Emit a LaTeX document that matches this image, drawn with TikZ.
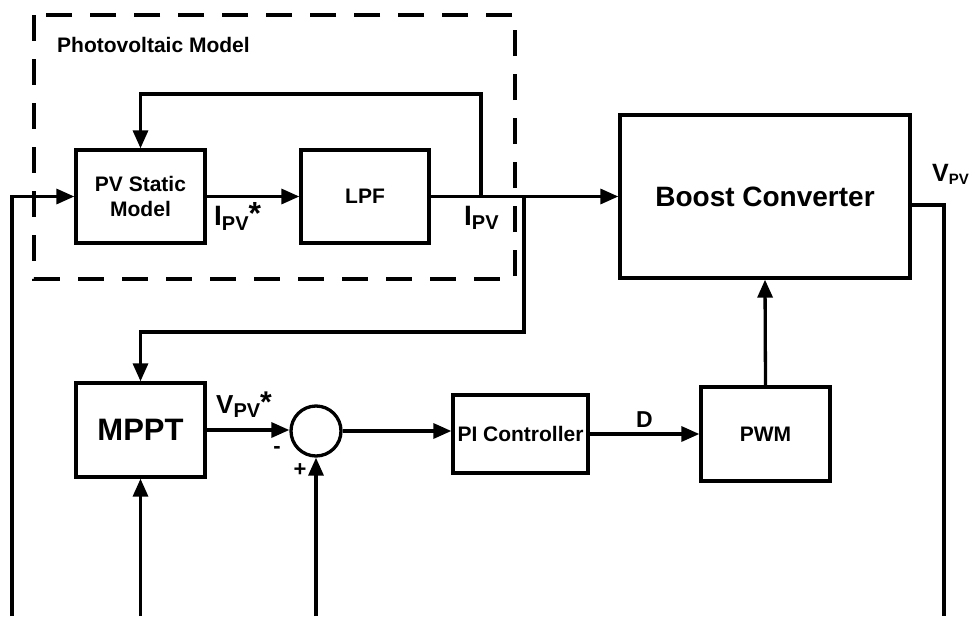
\documentclass[tikz,border=0pt]{standalone}
\usepackage{fontspec}
\setmainfont{Liberation Sans}
\usetikzlibrary{arrows.meta}
\newcommand{\fsz}[1]{\fontsize{#1}{#1}\selectfont}
\newcommand{\lowsub}[2]{\lower#1pt\hbox{\fsz{20}#2}}

\begin{document}
\begin{tikzpicture}[x=1pt, y=-1pt,
  blk/.style={draw, line width=3.3pt, align=center, font=\bfseries\fsz{21}},
  sumpt/.style={draw, circle, line width=3.3pt, minimum size=50pt, inner sep=0pt},
  lbl/.style={inner sep=0pt, font=\bfseries},
  sig/.style={line width=3.3pt},
  arr/.style={sig, -{Triangle[length=18pt,width=15pt]}},
]
\useasboundingbox (0,0) rectangle (974,616);

% photovoltaic model
\draw[line width=3.3pt, dash pattern=on 26pt off 18pt] (34,15) rectangle (515,279);
\node[lbl, font=\bfseries\fsz{21}, anchor=base west] (pvtitle) at (57,52) {Photovoltaic Model};

\node[blk, minimum width=129pt, minimum height=93pt,
      font=\bfseries\fontsize{21}{25}\selectfont] (pvm) at (140.5,196.5) {PV Static\\Model};
\node[blk, minimum width=128pt, minimum height=93pt] (lpf) at (365,196.5) {LPF};
\node[blk, minimum width=290pt, minimum height=163pt, font=\bfseries\fsz{28}] (boost) at (765,196.5) {Boost Converter};

% control loop
\node[blk, minimum width=129pt, minimum height=94pt, font=\bfseries\fsz{31}] (mppt) at (140.5,430) {MPPT};
\node[sumpt] (sum) at (316,431) {};
\node[blk, minimum width=135pt, minimum height=78pt, inner sep=2pt] (pic) at (520.5,434) {PI Controller};
\node[blk, minimum width=129pt, minimum height=94pt] (pwm) at (765.5,434) {PWM};

\coordinate (inl) at (12,616);
\coordinate (tapfb) at (481,196.5);
\coordinate (fbtop) at (481,94);
\coordinate (tapmp) at (524,196.5);
\coordinate (mpbend) at (524,332);
\coordinate (mpin) at (140.5,616);
\coordinate (sumin) at (316,616);
\coordinate (vpv) at (944,616);

\draw[arr] (inl) |- (pvm.west);
\draw[arr] (pvm.east) -- (lpf.west);
\draw[arr] (lpf.east) -- (boost.west);
\draw[arr] (tapfb) -- (fbtop) -| (pvm.north);
\draw[arr] (tapmp) -- (mpbend) -| (mppt.north);
\draw[arr] (mpin) -- (mppt.south);
\draw[arr] (sumin) -- (sum.south);
\draw[arr] (mppt.east) -- (mppt.east -| sum.west);
\draw[arr] (sum.east) -- (sum.east -| pic.west);
\draw[arr] (pic.east) -- node[lbl, above=5pt, font=\bfseries\fsz{23}] (dlbl) {D} (pwm.west);
\draw[arr] (pwm.north) -- (boost.south);
\draw[sig] ([yshift=-8.5pt]boost.east) -| (vpv);

% signal labels
\node[lbl, anchor=base west] (ipvs) at (214,225) {\fsz{28}I\lowsub{5}{PV}\raise1pt\hbox{\fsz{32}*}};
\node[lbl, anchor=base west] (ipv) at (464,225) {\fsz{28}I\lowsub{4}{PV}};
\node[lbl, anchor=base west] (vpvs) at (216,413) {\fsz{26}V\lowsub{4}{PV}\raise1pt\hbox{\fsz{30}*}};
\node[lbl, anchor=base west] (vpvo) at (932,181) {\fsz{25}V\lower3pt\hbox{\fsz{15}PV}};
\node[lbl, font=\bfseries\fsz{22}] (minus) at (277,450) {-};
\node[lbl, font=\bfseries\fsz{22}] (plus) at (300,470) {+};
\end{tikzpicture}
\end{document}
